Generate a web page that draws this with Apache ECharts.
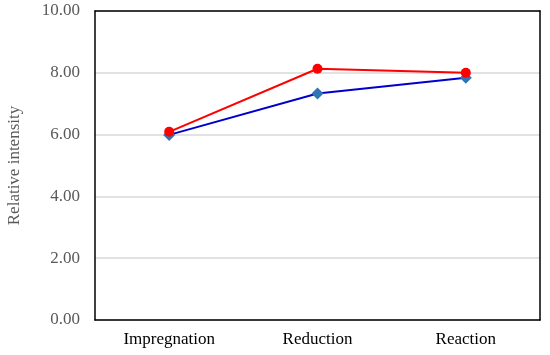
<!DOCTYPE html>
<html><head><meta charset="utf-8">
<script src="https://cdn.jsdelivr.net/npm/echarts@6/dist/echarts.min.js"></script>
<style>html,body{margin:0;padding:0;background:#fff}#c{width:550px;height:355px}</style>
</head><body><div id="c"></div>
<script>
var categories = ["Impregnation", "Reduction", "Reaction"];
var redValues = [6.09, 8.13, 8.0];
var blueValues = [5.99, 7.33, 7.84];
var yTicks = [0, 2, 4, 6, 8, 10];

var border = {show: true, onZero: false, lineStyle: {color: '#000', width: 1.5}};
var chart = echarts.init(document.getElementById('c'));
chart.setOption({
  animation: false,
  grid: {left: 95, right: 10, top: 11, bottom: 35, outerBoundsMode: 'none', containLabel: false},
  xAxis: [{
    type: 'category', data: categories, boundaryGap: true, z: 5,
    axisLine: border, axisTick: {show: false},
    axisLabel: {color: '#000', fontFamily: 'Liberation Serif', fontSize: 17, margin: 11}
  }, {
    type: 'category', data: categories, position: 'top', z: 5,
    axisLine: border, axisTick: {show: false}, axisLabel: {show: false}
  }],
  yAxis: [{
    type: 'value', min: yTicks[0], max: yTicks[yTicks.length - 1], interval: 2, z: 1,
    name: 'Relative intensity', nameLocation: 'middle', nameGap: 72,
    nameTextStyle: {color: '#595959', fontFamily: 'Liberation Serif', fontSize: 17},
    axisLine: border, axisTick: {show: false},
    axisLabel: {color: '#595959', fontFamily: 'Liberation Serif', fontSize: 17, margin: 15,
      formatter: function (v) { return v.toFixed(2); }},
    splitLine: {lineStyle: {color: '#d9d9d9', width: 1.5}}
  }, {
    type: 'value', min: yTicks[0], max: yTicks[yTicks.length - 1], interval: 2, position: 'right', z: 5,
    axisLine: border, axisTick: {show: false}, axisLabel: {show: false}, splitLine: {show: false}
  }],
  series: [
    {type: 'line', data: blueValues, symbol: 'diamond', symbolSize: 12, z: 6,
      lineStyle: {color: '#0000cc', width: 2},
      itemStyle: {color: '#2e75b6'}},
    {type: 'line', data: redValues, symbol: 'circle', symbolSize: 10, z: 7,
      lineStyle: {color: '#ff0000', width: 2},
      itemStyle: {color: '#ff0000'}}
  ]
});
</script></body></html>
